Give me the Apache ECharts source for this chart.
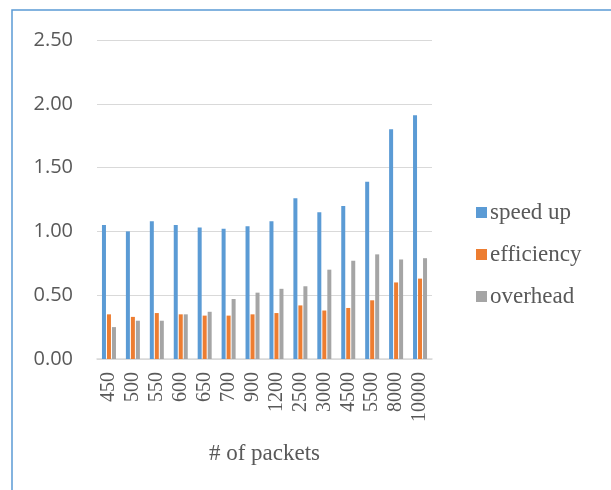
<!DOCTYPE html>
<html><head><meta charset="utf-8">
<script src="https://cdn.jsdelivr.net/npm/echarts@6/dist/echarts.min.js"></script>
<style>html,body{margin:0;padding:0;background:#fff}#c{width:611px;height:490px}</style>
</head><body><div id="c"></div>
<script>
const categories = ['450','500','550','600','650','700','900','1200','2500','3000','4500','5500','8000','10000'];
const speedUp    = [1.05,1.00,1.08,1.05,1.03,1.02,1.04,1.08,1.26,1.15,1.20,1.39,1.80,1.91];
const efficiency = [0.35,0.33,0.36,0.35,0.34,0.34,0.35,0.36,0.42,0.38,0.40,0.46,0.60,0.63];
const overhead   = [0.25,0.30,0.30,0.35,0.37,0.47,0.52,0.55,0.57,0.70,0.77,0.82,0.78,0.79];
const yTicks = [0, 0.5, 1, 1.5, 2, 2.5];

const chart = echarts.init(document.getElementById('c'), null, {renderer:'canvas'});
const barCommon = {type:'bar', barWidth:4, barGap:'25%', barCategoryGap:'40%'};
chart.setOption({
  animation:false,
  graphic:[{type:'rect', shape:{x:12, y:10, width:700, height:600}, style:{fill:null, stroke:'#5B9BD5', lineWidth:1.5}, silent:true}],
  grid:{left:97, right:179, top:40, bottom:131},
  legend:{
    orient:'vertical', left:471, top:196, itemGap:19, itemWidth:11, itemHeight:11,
    icon:'rect',
    textStyle:{fontFamily:'Liberation Serif', fontSize:23, color:'#595959', padding:[0,0,0,-2]},
    data:['speed up','efficiency','overhead']
  },
  xAxis:{
    type:'category', data:categories,
    name:'# of packets', nameLocation:'middle', nameGap:83,
    nameTextStyle:{fontFamily:'Liberation Serif', fontSize:23, color:'#595959'},
    axisLine:{lineStyle:{color:'#D9D9D9', width:1.5}},
    axisTick:{show:false},
    axisLabel:{rotate:90, interval:0, margin:13, fontFamily:'Liberation Serif', fontSize:20, color:'#595959'}
  },
  yAxis:{
    type:'value', min:0, max:2.5, interval:0.5,
    axisLine:{show:false}, axisTick:{show:false},
    splitLine:{lineStyle:{color:'#D9D9D9', width:1}},
    axisLabel:{margin:24, fontFamily:'Open Sans', fontSize:20, color:'#595959', formatter:v=>v.toFixed(2)}
  },
  series:[
    Object.assign({name:'speed up', data:speedUp, itemStyle:{color:'#5B9BD5'}}, barCommon),
    Object.assign({name:'efficiency', data:efficiency, itemStyle:{color:'#ED7D31'}}, barCommon),
    Object.assign({name:'overhead', data:overhead, itemStyle:{color:'#A5A5A5'}}, barCommon)
  ]
});
</script></body></html>
